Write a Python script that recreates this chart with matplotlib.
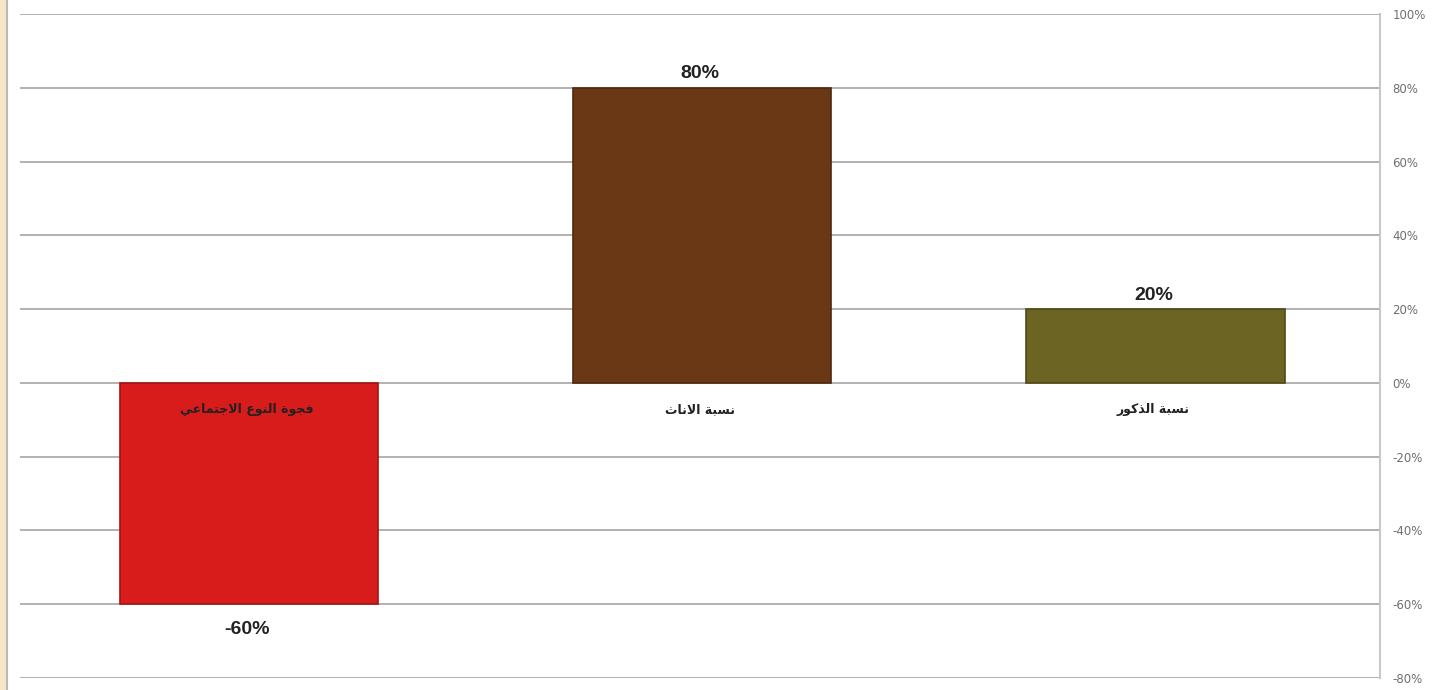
import numpy as np
import matplotlib.pyplot as plt
from matplotlib.ticker import FuncFormatter

categories = ["فجوة النوع الاجتماعي", "نسبة الاناث", "نسبة الذكور"]
values = [-60, 80, 20]
bar_colors = ["#d81b1b", "#6a3814", "#6b6422"]
edge_colors = ["#a51414", "#4e2a0e", "#4f4a18"]
yticks = [-80, -60, -40, -20, 0, 20, 40, 60, 80, 100]

# matplotlib does no arabic shaping, so map letters to presentation forms
# (isolated, final, initial, medial); None = does not join to the left
FORMS = {
    'ا': ('\uFE8D', '\uFE8E', None, None),
    'إ': ('\uFE87', '\uFE88', None, None),
    'ب': ('\uFE8F', '\uFE90', '\uFE91', '\uFE92'),
    'ة': ('\uFE93', '\uFE94', None, None),
    'ت': ('\uFE95', '\uFE96', '\uFE97', '\uFE98'),
    'ث': ('\uFE99', '\uFE9A', '\uFE9B', '\uFE9C'),
    'ج': ('\uFE9D', '\uFE9E', '\uFE9F', '\uFEA0'),
    'د': ('\uFEA9', '\uFEAA', None, None),
    'ذ': ('\uFEAB', '\uFEAC', None, None),
    'ر': ('\uFEAD', '\uFEAE', None, None),
    'س': ('\uFEB1', '\uFEB2', '\uFEB3', '\uFEB4'),
    'ع': ('\uFEC9', '\uFECA', '\uFECB', '\uFECC'),
    'ف': ('\uFED1', '\uFED2', '\uFED3', '\uFED4'),
    'ك': ('\uFED9', '\uFEDA', '\uFEDB', '\uFEDC'),
    'ل': ('\uFEDD', '\uFEDE', '\uFEDF', '\uFEE0'),
    'م': ('\uFEE1', '\uFEE2', '\uFEE3', '\uFEE4'),
    'ن': ('\uFEE5', '\uFEE6', '\uFEE7', '\uFEE8'),
    'و': ('\uFEED', '\uFEEE', None, None),
    'ي': ('\uFEF1', '\uFEF2', '\uFEF3', '\uFEF4'),
}
LAM_ALEF = {'ا': ('\uFEFB', '\uFEFC'), 'إ': ('\uFEF9', '\uFEFA')}


def shape(word):
    out = []
    chars = list(word)
    i = 0
    prev_joins = False
    while i < len(chars):
        c = chars[i]
        if c not in FORMS:
            out.append(c)
            prev_joins = False
            i += 1
            continue
        if c == 'ل' and i + 1 < len(chars) and chars[i + 1] in LAM_ALEF:
            out.append(LAM_ALEF[chars[i + 1]][1 if prev_joins else 0])
            prev_joins = False
            i += 2
            continue
        f = FORMS[c]
        nxt = chars[i + 1] if i + 1 < len(chars) else None
        next_joins = f[2] is not None and nxt in FORMS
        if prev_joins and next_joins:
            out.append(f[3])
        elif prev_joins:
            out.append(f[1])
        elif next_joins:
            out.append(f[2])
        else:
            out.append(f[0])
        prev_joins = f[2] is not None
        i += 1
    return ''.join(reversed(out))


fig = plt.figure(figsize=(14.5, 6.9), dpi=100)
ax = fig.add_axes([20 / 1450, 12 / 690, 1360 / 1450, 664 / 690])

x = np.arange(len(categories))
bars = ax.bar(x + 0.005, values, 0.57, color=bar_colors, edgecolor=edge_colors, linewidth=1.2, zorder=3)

ax.set_xlim(-0.5, len(categories) - 0.5)
ax.set_ylim(-80, 100)
ax.set_yticks(yticks)
ax.yaxis.set_major_formatter(FuncFormatter(lambda v, p: f"{v:.0f}%"))
ax.yaxis.tick_right()
ax.tick_params(axis='y', length=0, pad=9, labelsize=8.5, labelcolor='#6f6f6f')
ax.set_xticks([])
ax.grid(axis='y', color='#ababab', linewidth=1.3, zorder=0)
for s in ['top', 'left', 'bottom']:
    ax.spines[s].set_visible(False)
ax.spines['right'].set_color('#c8c8c8')
ax.spines['right'].set_linewidth(1.5)

for xi, v, cat in zip(x, values, categories):
    off = 4 if v > 0 else -12
    ax.annotate(f"{v}%", (xi, v), xytext=(0, off), textcoords='offset points',
                ha='center', va='bottom' if v > 0 else 'top',
                fontsize=14, fontweight='bold', family='Liberation Sans', color='#222222')
    ax.annotate(shape(cat), (xi, 0), xytext=(0, -19),
                textcoords='offset points', ha='center', va='center',
                fontsize=9, fontweight='bold', family='DejaVu Sans', color='#222222', zorder=4)

# left page border
fig.patches.append(plt.Rectangle((0, 0), 5 / 1450, 1, transform=fig.transFigure,
                                 color='#f5e6c8', zorder=0))
fig.lines.append(plt.Line2D([7 / 1450, 7 / 1450], [0, 1], transform=fig.transFigure,
                            color='#b8b8b8', linewidth=1.5))

fig.savefig("out.png", dpi=100)
